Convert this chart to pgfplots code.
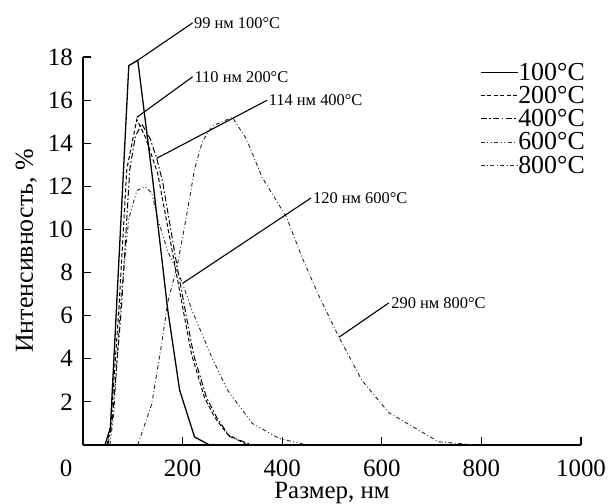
\documentclass[border=0pt]{standalone}
\usepackage{fontspec}
\setmainfont{Liberation Serif}
\usepackage{pgfplots}
\pgfplotsset{compat=1.18}
\usetikzlibrary{calc}

\newcommand{\tickfont}{\fontsize{25}{25}\selectfont}
\newcommand{\notefont}{\fontsize{16.5}{16.5}\selectfont}

\begin{document}
\begin{tikzpicture}
\begin{axis}[
  scale only axis, width=498bp, height=388bp,
  xmin=0, xmax=1000, ymin=0, ymax=18,
  axis lines*=left, clip=false,
  axis line style={line width=1.1bp},
  tick align=inside, major tick length=8bp,
  tick style={line width=1.1bp, black},
  xtick={200,400,600,800,1000},
  ytick={2,4,...,18},
  /pgf/number format/assume math mode=true,
  /pgf/number format/1000 sep={},
  ticklabel style={font=\tickfont},
  xticklabel style={anchor=north, inner sep=0pt, yshift=-15bp},
  yticklabel style={anchor=east, inner sep=0pt, xshift=-10bp},
  xlabel={Размер, нм},
  ylabel={Интенсивность, \%},
  every axis x label/.style={at={(axis description cs:0.5,0)}, anchor=north, inner sep=0pt, yshift=-37bp, font=\fontsize{25}{25}\selectfont},
  every axis y label/.style={at={(axis description cs:0,0.5)}, rotate=90, anchor=south, inner sep=0pt, yshift=46bp, font=\fontsize{26}{26}\selectfont},
  legend image code/.code={\draw[#1] (0bp,0bp) -- (37bp,0bp);},
  legend style={draw=none, fill=none, at={(rel axis cs:1.008,0.985)}, anchor=north east,
    inner sep=0pt, row sep=4.5bp, column sep=0pt, font=\fontsize{26}{26}\selectfont,
    nodes={inner sep=0pt}},
  legend cell align=left,
]
% 100 C
\addplot[black, line width=1.3bp] coordinates {
  (44,0) (55,0.8) (92,17.6) (110,17.85) (140,12.3) (170,6.3) (194,2.55) (224,0.37) (254,0)};
\addlegendentry{100°C}
% 200 C
\addplot[black, line width=1bp, dash pattern=on 4bp off 2.5bp] coordinates {
  (48,0) (56,1) (72,6.3) (88,12.8) (108,15.1) (125,14.3) (150,12.6) (184,8.4) (200,6.4)
  (218,4.2) (244,2.2) (264,1.3) (290,0.5) (330,0)};
\addlegendentry{200°C}
% 400 C
\addplot[black, line width=1bp, dash pattern=on 6bp off 2.5bp on 1.5bp off 2.5bp] coordinates {
  (50,0) (58,1) (77,6.3) (94,12.8) (105,14.3) (118,14.9) (135,14.2) (148,13.3) (160,12.2)
  (188,8.4) (204,6.4) (222,4.2) (248,2.2) (268,1.3) (294,0.4) (340,0)};
\addlegendentry{400°C}
% 600 C
\addplot[black!85, line width=0.9bp, dash pattern=on 4bp off 2.5bp on 1bp off 2.5bp on 1bp off 2.5bp] coordinates {
  (54,0) (62,1.5) (75,6.5) (92,10.5) (108,11.8) (124,12) (138,11.7) (150,10.5) (170,9)
  (200,7.5) (218,6.3) (258,4.1) (290,2.55) (340,1.0) (394,0.3) (450,0)};
\addlegendentry{600°C}
% 800 C
\addplot[black!85, line width=0.9bp, dash pattern=on 4bp off 2.5bp on 0.8bp off 2.5bp] coordinates {
  (110,0) (138,1.9) (158,4.7) (170,6.6) (190,8.4) (210,10.9) (224,12.8) (240,14.1) (260,14.8)
  (300,15.2) (328,14.2) (360,12.4) (408,10.6) (440,8.7) (474,6.9) (514,5.0) (560,3.0)
  (614,1.5) (714,0.15) (790,0)};
\addlegendentry{800°C}

% peak labels
\draw[line width=1.1bp] (axis cs:110,17.85) -- (axis cs:220,19.58) node[anchor=west, inner sep=1bp, font=\notefont] {99 нм 100°C};
\draw[line width=1.1bp] (axis cs:108,15.2) -- (axis cs:220,17.08) node[anchor=west, inner sep=1.5bp, font=\notefont] {110 нм 200°C};
\draw[line width=1.1bp] (axis cs:148,13.3) -- (axis cs:370,16.0) node[anchor=west, inner sep=1bp, font=\notefont] {114 нм 400°C};
\draw[line width=1.1bp] (axis cs:200,7.5) -- (axis cs:458,11.46) node[anchor=west, inner sep=1.5bp, font=\notefont] {120 нм 600°C};
\draw[line width=1.1bp] (axis cs:514,5.0) -- (axis cs:614,6.59) node[anchor=west, inner sep=2bp, font=\notefont] {290 нм 800°C};

\node[anchor=north, inner sep=0pt, font=\tickfont, xshift=-17bp, yshift=-15bp] at (rel axis cs:0,0) {0};
\coordinate (o) at (rel axis cs:0,0);
\coordinate (tr) at (rel axis cs:1,1);
\end{axis}
\pgfresetboundingbox
\useasboundingbox ($(o)+(-83bp,-59bp)$) rectangle ($(tr)+(27bp,57bp)$);
\end{tikzpicture}
\end{document}
